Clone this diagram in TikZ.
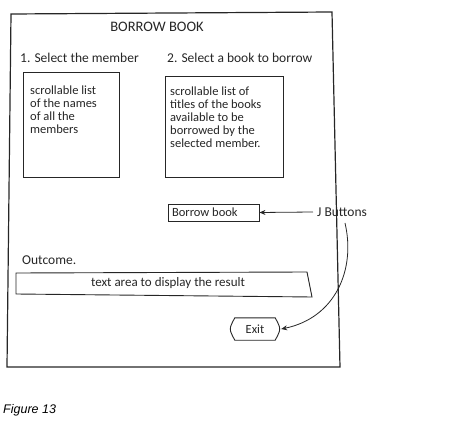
\documentclass[tikz,border=0pt]{standalone}
\usepackage{fontspec}
\setmainfont{Carlito}
\setsansfont{Liberation Sans}
\usetikzlibrary{arrows.meta}
\begin{document}
\begin{tikzpicture}[x=1pt,y=-1pt,
  sk/.style={draw=black!85, line width=0.9pt},
  lbl/.style={font=\fontsize{13.5}{15}\selectfont, text=black!85, inner sep=0pt},
  listtxt/.style={font=\fontsize{12.5}{12.8}\selectfont, text=black!85, align=left, inner sep=0pt, anchor=north west},
  listbox/.style={sk, rectangle, inner sep=0pt},
  btn/.style={sk, rectangle, inner ysep=0pt, inner xsep=4pt, font=\fontsize{12.5}{14}\selectfont, text=black!85},
  arr/.style={draw=black!85, line width=0.8pt, -{Stealth[length=6pt,width=5pt]}}]
\useasboundingbox (0,0) rectangle (475,428);
% outer window frame
\draw[sk, line width=1.2pt] (11,14) -- (332,12) -- (340,367) -- (7,367) -- cycle;
% title and headings
\node[lbl, font=\fontsize{14.5}{16}\selectfont] (title) at (157,27) {BORROW BOOK};
\node[lbl, anchor=west] (sel1) at (20,58) {1. Select the member};
\node[lbl, anchor=west] (sel2) at (167,58) {2. Select a book to borrow};
% list boxes
\node[listbox, minimum width=96pt, minimum height=105pt] (box1) at (71,124.5) {};
\node[listtxt] (txt1) at (30,86) {scrollable list\\of the names\\of all the\\members};
\node[listbox, minimum width=118pt, minimum height=101pt] (box2) at (224,126.5) {};
\node[listtxt] (txt2) at (170,87) {scrollable list of\\titles of the books\\available to be\\borrowed by the\\selected member.};
% borrow button
\node[btn, minimum height=17pt] (borrow) at (213.5,212.5) {\makebox[83pt][l]{Borrow book}};
% J Buttons label
\node[lbl, anchor=west] (jb) at (317,212) {J Buttons};
\coordinate (jbc) at (345,223);
% outcome
\node[lbl, anchor=west] (outc) at (22,260) {Outcome.};
\draw[sk] (16,273) -- (307,272) -- (312,297) -- (16,294) -- cycle;
\node[lbl, font=\fontsize{13}{15}\selectfont] (area) at (168,283) {text area to display the result};
% exit button
\node[inner sep=0pt, minimum width=50pt, minimum height=22pt, font=\fontsize{12.5}{14}\selectfont, text=black!85] (exit) at (255,329) {Exit};
\draw[sk] ([xshift=5pt]exit.north west) -- ([xshift=-5pt]exit.north east)
  .. controls ([xshift=1pt]exit.east) .. ([xshift=-5pt]exit.south east)
  -- ([xshift=5pt]exit.south west)
  .. controls ([xshift=-1pt]exit.west) .. cycle;
% connectors
\draw[arr] ([xshift=-4pt]jb.west) -- (borrow.east);
\draw[arr] (jbc) .. controls (356,270) and (335,318) .. ([xshift=1pt]exit.east);
% caption
\node[anchor=west, inner sep=0pt, font=\sffamily\itshape\fontsize{12.5}{14}\selectfont] (fig) at (3,410) {Figure 13};
\end{tikzpicture}
\end{document}
